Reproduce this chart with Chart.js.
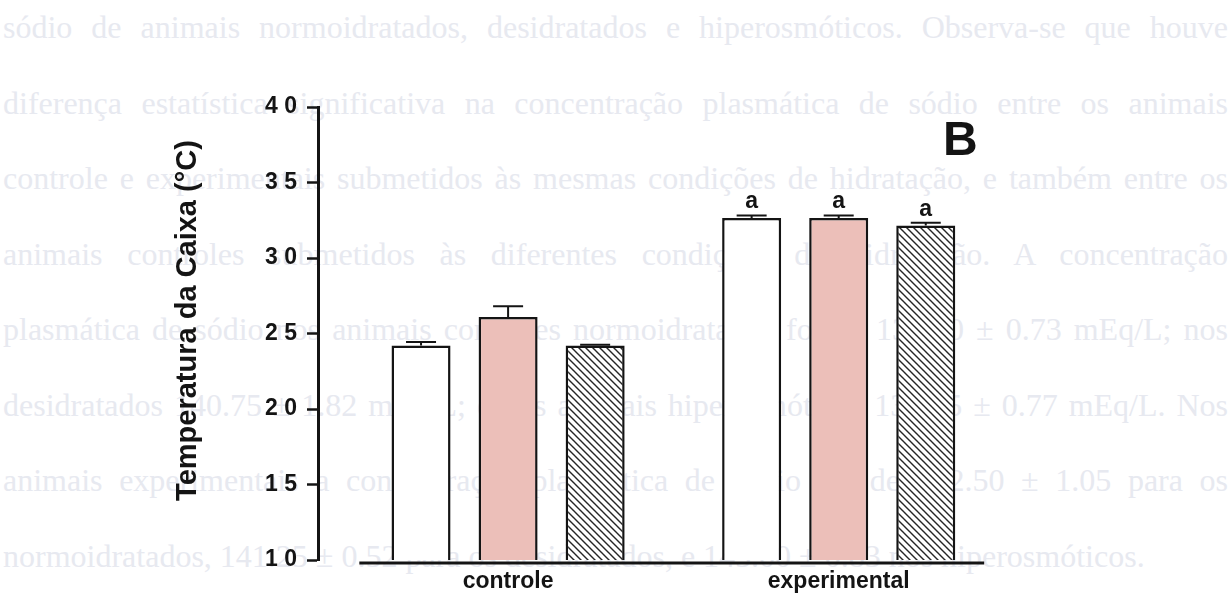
<!DOCTYPE html>
<html lang="pt-BR">
<head>
<meta charset="utf-8">
<title>Temperatura da Caixa</title>
<script src="https://cdn.jsdelivr.net/npm/chart.js@4.4.1/dist/chart.umd.min.js"></script>
<style>
  html, body { margin: 0; padding: 0; background: #ffffff; }
  #pagina { position: relative; width: 1231px; height: 602px; overflow: hidden; }
  #texto {
    position: absolute; left: 3px; top: -10px; width: 1225px;
    font-family: 'Liberation Serif', 'Times New Roman', serif;
    font-size: 32px; line-height: 75.5px; color: #e7e9f0;
  }
  #texto .linha { text-align: justify; text-align-last: justify; }
  #texto .linha.ultima { text-align-last: left; }
  #grafico { position: absolute; left: 0; top: 0; }
</style>
</head>
<body>
<div id="pagina">
  <div id="texto">
    <div class="linha">sódio de animais normoidratados, desidratados e hiperosmóticos. Observa-se que houve</div>
    <div class="linha">diferença estatística significativa na concentração plasmática de sódio entre os animais</div>
    <div class="linha">controle e experimentais submetidos às mesmas condições de hidratação, e também entre os</div>
    <div class="linha">animais controles submetidos às diferentes condições de hidratação. A concentração</div>
    <div class="linha">plasmática de sódio nos animais controles normoidratados foi de 138.50 ± 0.73 mEq/L; nos</div>
    <div class="linha">desidratados 140.75 ± 1.82 mEq/L; e nos animais hiperosmóticos 139.25 ± 0.77 mEq/L. Nos</div>
    <div class="linha">animais experimentais a concentração plasmática de sódio foi de 142.50 ± 1.05 para os</div>
    <div class="linha ultima">normoidratados, 141.25 ± 0.52 para os desidratados, e 145.00 ± 0.83 nos hiperosmóticos.</div>
  </div>
  <canvas id="grafico" width="1231" height="602"></canvas>
</div>
<script>
// Grupos e posições no eixo x
const categorias = ['controle', 'experimental'];
const posicoes = [0, 1];

// Médias e erros-padrão (°C) por condição de hidratação
const normoidratados = [24.2, 32.65];
const normoidratadosEpm = [0.23, 0.17];
const desidratados = [26.1, 32.65];
const desidratadosEpm = [0.7, 0.17];
const hiperosmoticos = [24.2, 32.15];
const hiperosmoticosEpm = [0.05, 0.18];

// Letra de significância acima de cada grupo
const letras = ['', 'a'];

// Marcas do eixo y
const yTicks = [10, 15, 20, 25, 30, 35, 40];

const tituloY = 'Temperatura da Caixa (°C)';
const painel = 'B';

const FONTE = "'Liberation Sans', Arial, Helvetica, sans-serif";
const TINTA = '#141414';

const canvas = document.getElementById('grafico');
const ctx0 = canvas.getContext('2d');

// Preenchimento hachurado em diagonal
function hachura() {
  const t = 7;
  const c = document.createElement('canvas');
  c.width = t; c.height = t;
  const g = c.getContext('2d');
  g.fillStyle = '#ffffff';
  g.fillRect(0, 0, t, t);
  g.strokeStyle = '#262626';
  g.lineWidth = 1.4;
  g.beginPath();
  g.moveTo(-1, -1); g.lineTo(t + 1, t + 1);
  g.moveTo(-1, t - 1); g.lineTo(1, t + 1);
  g.moveTo(t - 1, -1); g.lineTo(t + 1, 1);
  g.stroke();
  return ctx0.createPattern(c, 'repeat');
}

const medias = [normoidratados, desidratados, hiperosmoticos];
const erros = [normoidratadosEpm, desidratadosEpm, hiperosmoticosEpm];
const nomes = ['normoidratados', 'desidratados', 'hiperosmóticos'];
const preenchimentos = ['#ffffff', 'rgb(236,191,185)', hachura()];

const datasets = medias.map((serie, d) => ({
  label: nomes[d],
  data: posicoes.map((x, i) => ({ x, y: serie[i] })),
  backgroundColor: preenchimentos[d],
  borderColor: TINTA,
  borderWidth: 2.5,
  borderSkipped: false,
  barPercentage: 0.678,
  categoryPercentage: 0.79
}));

// Barras de erro (lado superior) e letras de significância
const barrasDeErro = {
  id: 'barrasDeErro',
  afterDatasetsDraw(chart) {
    const { ctx, scales: { y } } = chart;
    ctx.save();
    ctx.strokeStyle = TINTA;
    ctx.fillStyle = TINTA;
    ctx.lineWidth = 2;
    ctx.font = `bold 23px ${FONTE}`;
    ctx.textAlign = 'center';
    ctx.textBaseline = 'alphabetic';
    chart.data.datasets.forEach((ds, d) => {
      chart.getDatasetMeta(d).data.forEach((barra, i) => {
        const topo = y.getPixelForValue(medias[d][i] + erros[d][i]);
        ctx.beginPath();
        ctx.moveTo(barra.x, barra.y);
        ctx.lineTo(barra.x, topo);
        ctx.moveTo(barra.x - 15, topo);
        ctx.lineTo(barra.x + 15, topo);
        ctx.stroke();
        if (letras[i]) ctx.fillText(letras[i], barra.x, topo - 7);
      });
    });
    ctx.restore();
  }
};

// Linha de base do eixo x, título do eixo y e letra do painel
const eixoX = [-0.45, 1.44];
const moldura = {
  id: 'moldura',
  afterDraw(chart) {
    const { ctx, chartArea: a, scales: { x } } = chart;
    ctx.save();
    ctx.strokeStyle = TINTA;
    ctx.lineWidth = 3;
    const yBase = a.bottom + 3;
    ctx.beginPath();
    ctx.moveTo(x.getPixelForValue(eixoX[0]), yBase);
    ctx.lineTo(x.getPixelForValue(eixoX[1]), yBase);
    ctx.stroke();

    ctx.fillStyle = TINTA;
    ctx.font = `bold 29px ${FONTE}`;
    ctx.textAlign = 'center';
    ctx.textBaseline = 'middle';
    ctx.translate(a.left - 130, (a.top + a.bottom) / 2 - 13);
    ctx.rotate(-Math.PI / 2);
    ctx.fillText(tituloY, 0, 0);
    ctx.restore();

    ctx.save();
    ctx.fillStyle = TINTA;
    ctx.font = `bold 48px ${FONTE}`;
    ctx.textAlign = 'left';
    ctx.textBaseline = 'alphabetic';
    ctx.fillText(painel, a.right - 61, a.top + 48);
    ctx.restore();
  }
};

new Chart(canvas, {
  type: 'bar',
  data: { datasets },
  plugins: [barrasDeErro, moldura],
  options: {
    responsive: false,
    devicePixelRatio: 1,
    animation: false,
    layout: { padding: { left: 150, top: 107, right: 227, bottom: 0 } },
    plugins: { legend: { display: false }, tooltip: { enabled: false } },
    scales: {
      x: {
        type: 'linear',
        min: -0.575,
        max: 1.5,
        offset: false,
        afterBuildTicks: (s) => { s.ticks = posicoes.map(v => ({ value: v })); },
        afterFit: (s) => { s.height = 42; },
        ticks: {
          autoSkip: false,
          maxRotation: 0,
          padding: 8,
          color: TINTA,
          font: { family: FONTE, size: 23, weight: 'bold' },
          callback: (v, i) => categorias[i]
        },
        grid: { display: false, drawTicks: false },
        border: { display: false }
      },
      y: {
        min: 10,
        max: 40,
        afterBuildTicks: (s) => { s.ticks = yTicks.map(v => ({ value: v })); },
        afterFit: (s) => { s.width = 168; },
        ticks: {
          padding: 10,
          color: TINTA,
          font: { family: FONTE, size: 23, weight: 'bold' },
          callback: (v) => String(v).split('').join(' ')
        },
        grid: { drawOnChartArea: false, drawTicks: true, tickLength: 11, tickWidth: 2.5, tickColor: TINTA },
        border: { display: true, color: TINTA, width: 3 }
      }
    }
  }
});
</script>
</body>
</html>
